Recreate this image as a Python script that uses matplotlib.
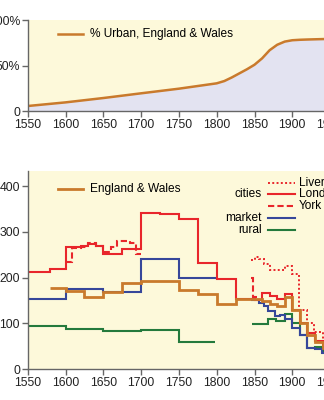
import matplotlib.pyplot as plt

plt.rcParams['font.family'] = ['Liberation Sans', 'DejaVu Sans']

# % urban, England & Wales
urban_years = [1550, 1600, 1650, 1700, 1750, 1800, 1810, 1820, 1830, 1840, 1850,
               1860, 1870, 1880, 1890, 1900, 1910, 1920, 1950, 2000]
urban_pct = [5.5, 9.5, 14.3, 19.5, 24.6, 30.5, 33, 37, 41.5, 46, 51,
             58, 67, 73, 76.5, 78, 78.5, 78.8, 79.5, 80]

# step series: edges have one more entry than values
ew_edges = [1580, 1600, 1625, 1650, 1675, 1700, 1750, 1775, 1800, 1825, 1850,
            1860, 1870, 1880, 1890, 1900, 1910, 1920, 1930, 1940, 1950]
ew_vals = [178, 171, 157, 168, 188, 193, 173, 165, 143, 153, 152,
           148, 143, 137, 157, 130, 100, 75, 60, 45]

london_edges = [1550, 1580, 1600, 1620, 1630, 1640, 1650, 1675, 1700, 1725, 1750,
                1775, 1800, 1825, 1850, 1860, 1870, 1880, 1890, 1900, 1910,
                1920, 1930, 1940, 1950]
london_vals = [213, 218, 266, 268, 273, 270, 251, 262, 342, 338, 328,
               231, 196, 153, 150, 166, 159, 153, 163, 130, 100,
               78, 62, 50]

york1_edges = [1600, 1608, 1620, 1630, 1640, 1650, 1660, 1668, 1685, 1693, 1700]
york1_vals = [235, 265, 266, 275, 270, 255, 266, 281, 275, 251]
york2_edges = [1845, 1848, 1856]
york2_vals = [200, 157]

liver_edges = [1845, 1850, 1856, 1862, 1870, 1890, 1900, 1909, 1920, 1929, 1940, 1950]
liver_vals = [238, 244, 240, 230, 217, 226, 207, 130, 100, 80, 65]

market1_edges = [1550, 1600, 1650, 1700, 1750, 1800]
market1_vals = [153, 174, 168, 240, 200]
market2_edges = [1845, 1856, 1862, 1868, 1877, 1884, 1890, 1900, 1910, 1919, 1930, 1939, 1950]
market2_vals = [150, 145, 138, 126, 115, 118, 110, 90, 75, 45, 44, 35]

rural1_edges = [1550, 1600, 1650, 1700, 1750, 1798]
rural1_vals = [93, 87, 83, 85, 58]
rural2_edges = [1847, 1868, 1879, 1890, 1900, 1910, 1919, 1930, 1940, 1950]
rural2_vals = [98, 109, 105, 120, 100, 75, 45, 48, 40]

yellow = '#fdf9da'
lavender = '#e3e3f1'
orange = '#c97a2c'
red = '#e8262b'
blue = '#36479a'
green = '#247a3c'
grey = '#666666'

fig = plt.figure(figsize=(3.24, 4.0), dpi=100)


def style(ax):
    ax.set_facecolor(yellow)
    for s in ['top', 'right']:
        ax.spines[s].set_visible(False)
    for s in ['left', 'bottom']:
        ax.spines[s].set_color(grey)
        ax.spines[s].set_linewidth(1.0)
    ax.tick_params(colors=grey, labelcolor='#222222', labelsize=8.8,
                   length=4, width=1.0, pad=1.5)
    ax.set_xlim(1550, 2000)
    ax.set_xticks(range(1550, 2001, 50))


# top panel
ax1 = fig.add_axes([0.0855, 0.7225, 1.05, 0.2268])
style(ax1)
ax1.set_ylim(0, 100)
ax1.fill_between(urban_years, 0, urban_pct, color=lavender, lw=0)
ax1.plot(urban_years, urban_pct, color=orange, lw=1.8)
ax1.set_yticks([0, 50, 100])
ax1.set_yticklabels(['0', '50%', '100%'])
ax1.plot([1590, 1623], [85, 85], color=orange, lw=1.8)
ax1.text(1633, 85, '% Urban, England & Wales', fontsize=8.6, va='center')

# bottom panel
ax2 = fig.add_axes([0.0855, 0.0775, 1.05, 0.495])
style(ax2)
ax2.set_ylim(0, 433)
ax2.set_yticks([0, 100, 200, 300, 400])

ax2.stairs(rural1_vals, rural1_edges, baseline=None, color=green, lw=1.5)
ax2.stairs(rural2_vals, rural2_edges, baseline=None, color=green, lw=1.5)
ax2.stairs(market1_vals, market1_edges, baseline=None, color=blue, lw=1.5)
ax2.stairs(market2_vals, market2_edges, baseline=None, color=blue, lw=1.5)
ax2.stairs(liver_vals, liver_edges, baseline=None, color=red, lw=1.4, linestyle=(0, (1, 1.2)))
ax2.stairs(london_vals, london_edges, baseline=None, color=red, lw=1.5)
ax2.stairs(york1_vals, york1_edges, baseline=None, color=red, lw=1.5, linestyle=(0, (3, 1.5)))
ax2.stairs(york2_vals, york2_edges, baseline=None, color=red, lw=1.5, linestyle=(0, (3, 1.5)))
ax2.stairs(ew_vals, ew_edges, baseline=None, color=orange, lw=2.0)

# legend, drawn by hand
ax2.plot([1590, 1623], [393, 393], color=orange, lw=2.0)
ax2.text(1633, 393, 'England & Wales', fontsize=8.6, va='center')
lx = [1868, 1903]
ax2.plot(lx, [406, 406], color=red, lw=1.4, linestyle=(0, (1, 1.2)))
ax2.plot(lx, [382, 382], color=red, lw=1.5)
ax2.plot(lx, [357, 357], color=red, lw=1.5, linestyle=(0, (3, 1.5)))
ax2.plot(lx, [331, 331], color=blue, lw=1.5)
ax2.plot(lx, [305, 305], color=green, lw=1.5)
ax2.text(1909, 406, 'Liverpool', fontsize=8.6, va='center')
ax2.text(1909, 382, 'London', fontsize=8.6, va='center')
ax2.text(1909, 357, 'York', fontsize=8.6, va='center')
ax2.text(1860, 382, 'cities', fontsize=8.6, va='center', ha='right')
ax2.text(1860, 331, 'market', fontsize=8.6, va='center', ha='right')
ax2.text(1860, 305, 'rural', fontsize=8.6, va='center', ha='right')

fig.savefig('out.png', dpi=100)
